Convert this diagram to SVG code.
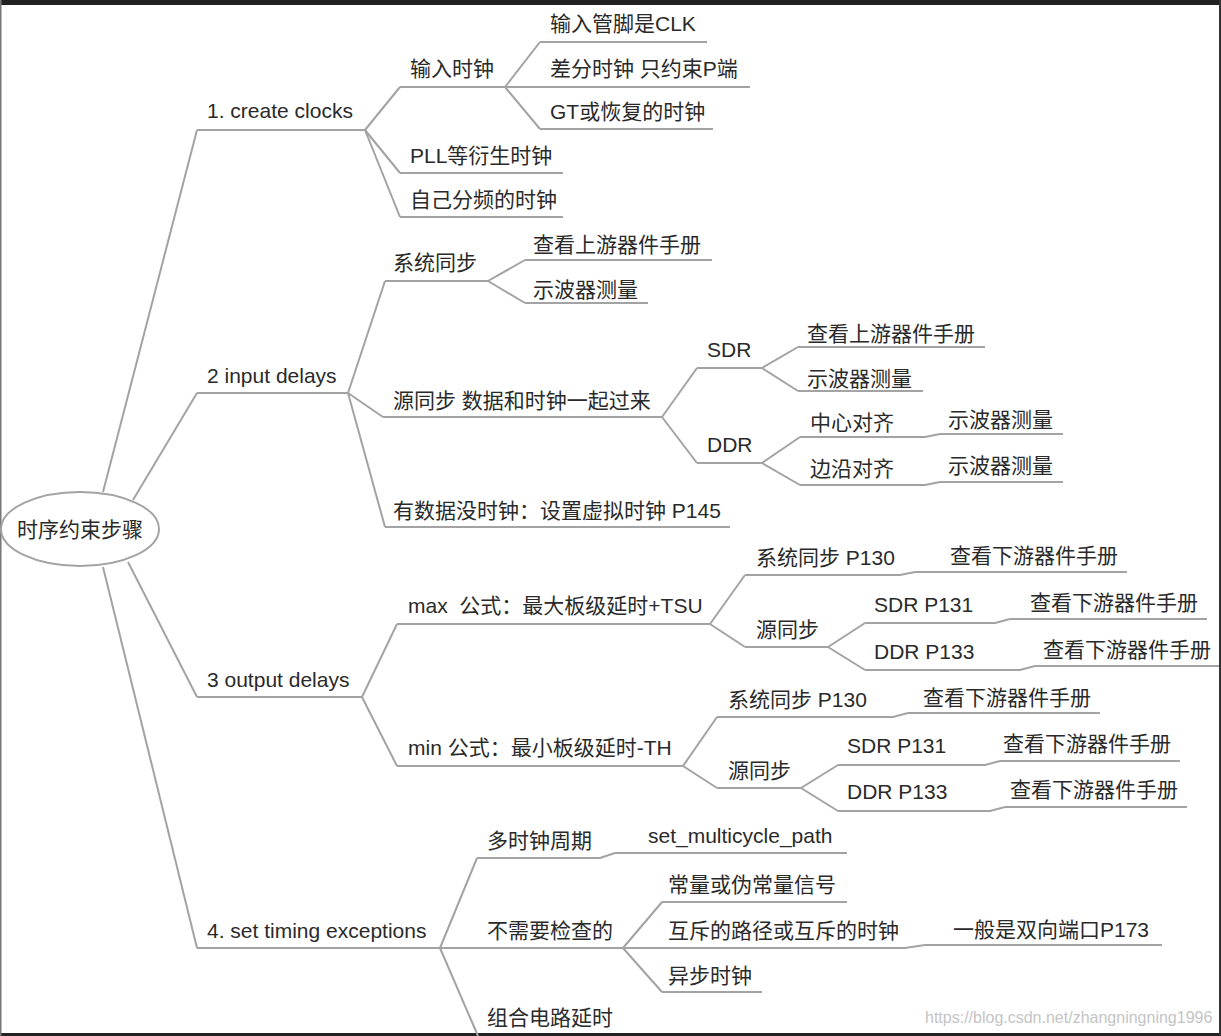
<svg xmlns="http://www.w3.org/2000/svg" width="1221" height="1036" viewBox="0 0 1221 1036">
<style>
text{font-family:"Liberation Sans","Noto Sans CJK SC",sans-serif;font-size:21px;fill:#2a2a2a}
.ul,.c{stroke:#a3a3a3;stroke-width:2;fill:none}
.wm{font-size:16px;fill:#c4c4c4}
</style>
<rect x="0" y="0" width="1221" height="1036" fill="#fff"/>
<rect x="0" y="0" width="1221" height="5" fill="#222"/>
<rect x="0" y="1033" width="1221" height="3" fill="#222"/>
<rect x="1219" y="0" width="2" height="1036" fill="#333"/>
<rect x="0" y="0" width="1.5" height="1036" fill="#777"/>
<g id="connectors">
<path class="c" d="M103 492 L197 130"/>
<path class="c" d="M365 130 L400 87"/>
<path class="c" d="M505 87 L540 42"/>
<path class="c" d="M505 87 L540 129"/>
<path class="c" d="M365 130 L400 173"/>
<path class="c" d="M365 130 L400 217"/>
<path class="c" d="M133 500 L197 393"/>
<path class="c" d="M348 393 L385 281"/>
<path class="c" d="M488 281 L525 260"/>
<path class="c" d="M488 281 L525 303"/>
<path class="c" d="M348 393 L383 417"/>
<path class="c" d="M662 417 L697 368"/>
<path class="c" d="M762 368 L798 347"/>
<path class="c" d="M762 368 L798 391"/>
<path class="c" d="M662 417 L697 463"/>
<path class="c" d="M762 463 L800 437"/>
<path class="c" d="M762 463 L800 485"/>
<path class="c" d="M348 393 L385 527"/>
<path class="c" d="M128 562 L197 697"/>
<path class="c" d="M362 697 L397 624"/>
<path class="c" d="M710 624 L745 575"/>
<path class="c" d="M710 624 L745 647"/>
<path class="c" d="M828 647 L865 623"/>
<path class="c" d="M828 647 L865 670"/>
<path class="c" d="M362 697 L397 766"/>
<path class="c" d="M683 766 L717 717"/>
<path class="c" d="M683 766 L717 788"/>
<path class="c" d="M801 788 L838 765"/>
<path class="c" d="M801 788 L838 811"/>
<path class="c" d="M103 567 L197 948"/>
<path class="c" d="M440 948 L477 858"/>
<path class="c" d="M623 948 L662 902"/>
<path class="c" d="M623 948 L662 992"/>
<path class="c" d="M440 948 L478 1036"/>
</g>
<g id="root"><ellipse cx="80" cy="529" rx="79" ry="37" fill="#fff" stroke="#a3a3a3" stroke-width="2"/><text x="80" y="537" text-anchor="middle">时序约束步骤</text></g>
<g id="n1"><text x="207" y="118">1. create clocks</text><path class="ul" d="M197 130 H365"/></g>
<g id="n1a"><text x="410" y="76">输入时钟</text><path class="ul" d="M400 87 H505"/></g>
<g id="n1a1"><text x="550" y="31">输入管脚是CLK</text><path class="ul" d="M540 42 H707"/></g>
<g id="n1a2"><text x="550" y="76">差分时钟 只约束P端</text><path class="ul" d="M505 87 H750"/></g>
<g id="n1a3"><text x="550" y="119">GT或恢复的时钟</text><path class="ul" d="M540 129 H713"/></g>
<g id="n1b"><text x="410" y="163">PLL等衍生时钟</text><path class="ul" d="M400 173 H563"/></g>
<g id="n1c"><text x="410" y="207">自己分频的时钟</text><path class="ul" d="M400 217 H563"/></g>
<g id="n2"><text x="207" y="383">2 input delays</text><path class="ul" d="M197 393 H348"/></g>
<g id="n2a"><text x="393" y="270">系统同步</text><path class="ul" d="M385 281 H488"/></g>
<g id="n2a1"><text x="533" y="252">查看上游器件手册</text><path class="ul" d="M525 260 H712"/></g>
<g id="n2a2"><text x="533" y="297">示波器测量</text><path class="ul" d="M525 303 H648"/></g>
<g id="n2b"><text x="393" y="408">源同步 数据和时钟一起过来</text><path class="ul" d="M383 417 H662"/></g>
<g id="n2b1"><text x="707" y="357">SDR</text><path class="ul" d="M697 368 H762"/></g>
<g id="n2b1a"><text x="807" y="341">查看上游器件手册</text><path class="ul" d="M798 347 H985"/></g>
<g id="n2b1b"><text x="807" y="386">示波器测量</text><path class="ul" d="M798 391 H923"/></g>
<g id="n2b2"><text x="707" y="452">DDR</text><path class="ul" d="M697 463 H762"/></g>
<g id="n2b2a"><text x="810" y="430">中心对齐</text><path class="ul" d="M800 437 H925 L940 434"/></g>
<g id="n2b2a1"><text x="948" y="427">示波器测量</text><path class="ul" d="M940 434 H1063"/></g>
<g id="n2b2b"><text x="810" y="476">边沿对齐</text><path class="ul" d="M800 485 H925 L940 482"/></g>
<g id="n2b2b1"><text x="948" y="473">示波器测量</text><path class="ul" d="M940 482 H1063"/></g>
<g id="n2c"><text x="393" y="518">有数据没时钟：设置虚拟时钟 P145</text><path class="ul" d="M385 527 H730"/></g>
<g id="n3"><text x="207" y="687">3 output delays</text><path class="ul" d="M197 697 H362"/></g>
<g id="n3a"><text x="408" y="613">max&#160; 公式：最大板级延时+TSU</text><path class="ul" d="M397 624 H710"/></g>
<g id="n3a1"><text x="756" y="565">系统同步 P130</text><path class="ul" d="M745 575 H900 L915 572"/></g>
<g id="n3a1a"><text x="950" y="563">查看下游器件手册</text><path class="ul" d="M915 572 H1127"/></g>
<g id="n3a2"><text x="756" y="637">源同步</text><path class="ul" d="M745 647 H828"/></g>
<g id="n3a2a"><text x="874" y="612">SDR P131</text><path class="ul" d="M865 623 H995 L1010 619"/></g>
<g id="n3a2a1"><text x="1030" y="610">查看下游器件手册</text><path class="ul" d="M1010 619 H1207"/></g>
<g id="n3a2b"><text x="874" y="659">DDR P133</text><path class="ul" d="M865 670 H1020 L1035 666"/></g>
<g id="n3a2b1"><text x="1043" y="657">查看下游器件手册</text><path class="ul" d="M1035 666 H1219"/></g>
<g id="n3b"><text x="408" y="755">min 公式：最小板级延时-TH</text><path class="ul" d="M397 766 H683"/></g>
<g id="n3b1"><text x="728" y="707">系统同步 P130</text><path class="ul" d="M717 717 H893 L908 713"/></g>
<g id="n3b1a"><text x="923" y="705">查看下游器件手册</text><path class="ul" d="M908 713 H1100"/></g>
<g id="n3b2"><text x="728" y="778">源同步</text><path class="ul" d="M717 788 H801"/></g>
<g id="n3b2a"><text x="847" y="753">SDR P131</text><path class="ul" d="M838 765 H985 L1000 761"/></g>
<g id="n3b2a1"><text x="1003" y="751">查看下游器件手册</text><path class="ul" d="M1000 761 H1180"/></g>
<g id="n3b2b"><text x="847" y="799">DDR P133</text><path class="ul" d="M838 811 H990 L1005 807"/></g>
<g id="n3b2b1"><text x="1010" y="797">查看下游器件手册</text><path class="ul" d="M1005 807 H1187"/></g>
<g id="n4"><text x="207" y="938">4. set timing exceptions</text><path class="ul" d="M197 948 H440"/></g>
<g id="n4a"><text x="487" y="848">多时钟周期</text><path class="ul" d="M477 858 H600 L615 853"/></g>
<g id="n4a1"><text x="648" y="843">set_multicycle_path</text><path class="ul" d="M615 853 H847"/></g>
<g id="n4b"><text x="487" y="938">不需要检查的</text><path class="ul" d="M440 948 H623"/></g>
<g id="n4b1"><text x="668" y="892">常量或伪常量信号</text><path class="ul" d="M662 902 H847"/></g>
<g id="n4b2"><text x="668" y="938">互斥的路径或互斥的时钟</text><path class="ul" d="M623 948 H905 L925 945"/></g>
<g id="n4b2a"><text x="953" y="937">一般是双向端口P173</text><path class="ul" d="M925 945 H1162"/></g>
<g id="n4b3"><text x="668" y="983">异步时钟</text><path class="ul" d="M662 992 H762"/></g>
<g id="n4c"><text x="487" y="1025">组合电路延时</text></g>
<text class="wm" x="925" y="1023">https://blog.csdn.net/zhangningning1996</text>
</svg>
